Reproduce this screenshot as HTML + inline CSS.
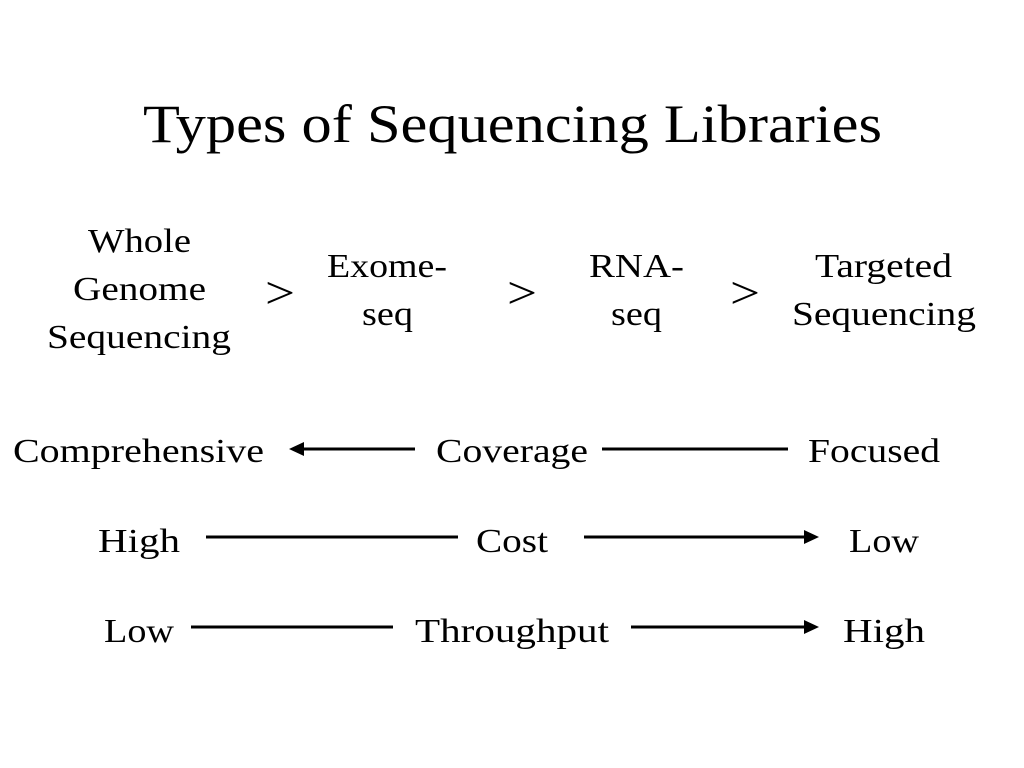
<!DOCTYPE html>
<html><head><meta charset="utf-8"><style>html,body{margin:0;padding:0;background:#fff}svg{display:block}</style></head>
<body>
<svg width="1024" height="768" viewBox="0 0 1024 768" xmlns="http://www.w3.org/2000/svg" font-family="'Liberation Serif', serif" fill="#000">
<rect width="1024" height="768" fill="#fff"/>
<text x="143" y="142" font-size="54" textLength="739" lengthAdjust="spacingAndGlyphs">Types of Sequencing Libraries</text>
<g font-size="34">
<text x="88" y="252" textLength="103" lengthAdjust="spacingAndGlyphs">Whole</text>
<text x="73" y="300" textLength="133" lengthAdjust="spacingAndGlyphs">Genome</text>
<text x="47" y="348" textLength="184" lengthAdjust="spacingAndGlyphs">Sequencing</text>
<text x="327" y="277" textLength="120" lengthAdjust="spacingAndGlyphs">Exome-</text>
<text x="362" y="325" textLength="51" lengthAdjust="spacingAndGlyphs">seq</text>
<text x="589" y="277" textLength="95" lengthAdjust="spacingAndGlyphs">RNA-</text>
<text x="611" y="325" textLength="51" lengthAdjust="spacingAndGlyphs">seq</text>
<text x="815" y="277" textLength="137" lengthAdjust="spacingAndGlyphs">Targeted</text>
<text x="792" y="325" textLength="184" lengthAdjust="spacingAndGlyphs">Sequencing</text>
</g>
<g font-size="46">
<text x="265" y="308" textLength="30" lengthAdjust="spacingAndGlyphs">&gt;</text>
<text x="507" y="308" textLength="30" lengthAdjust="spacingAndGlyphs">&gt;</text>
<text x="730" y="308" textLength="30" lengthAdjust="spacingAndGlyphs">&gt;</text>
</g>
<g font-size="34">
<text x="13" y="462" textLength="251" lengthAdjust="spacingAndGlyphs">Comprehensive</text>
<text x="436" y="462" textLength="152" lengthAdjust="spacingAndGlyphs">Coverage</text>
<text x="808" y="462" textLength="132" lengthAdjust="spacingAndGlyphs">Focused</text>
<text x="98" y="552" textLength="82" lengthAdjust="spacingAndGlyphs">High</text>
<text x="476" y="552" textLength="72" lengthAdjust="spacingAndGlyphs">Cost</text>
<text x="849" y="552" textLength="70" lengthAdjust="spacingAndGlyphs">Low</text>
<text x="104" y="642" textLength="70" lengthAdjust="spacingAndGlyphs">Low</text>
<text x="415" y="642" textLength="194" lengthAdjust="spacingAndGlyphs">Throughput</text>
<text x="843" y="642" textLength="82" lengthAdjust="spacingAndGlyphs">High</text>
</g>
<g stroke="#000" stroke-width="3">
<line x1="302" y1="449" x2="415" y2="449"/>
<line x1="602" y1="449" x2="788" y2="449"/>
<line x1="206" y1="537" x2="458" y2="537"/>
<line x1="584" y1="537" x2="806" y2="537"/>
<line x1="191" y1="627" x2="393" y2="627"/>
<line x1="631" y1="627" x2="806" y2="627"/>
</g>
<polygon points="289,449 304,442 304,456"/>
<polygon points="819,537 804,530 804,544"/>
<polygon points="819,627 804,620 804,634"/>
</svg>
</body></html>
